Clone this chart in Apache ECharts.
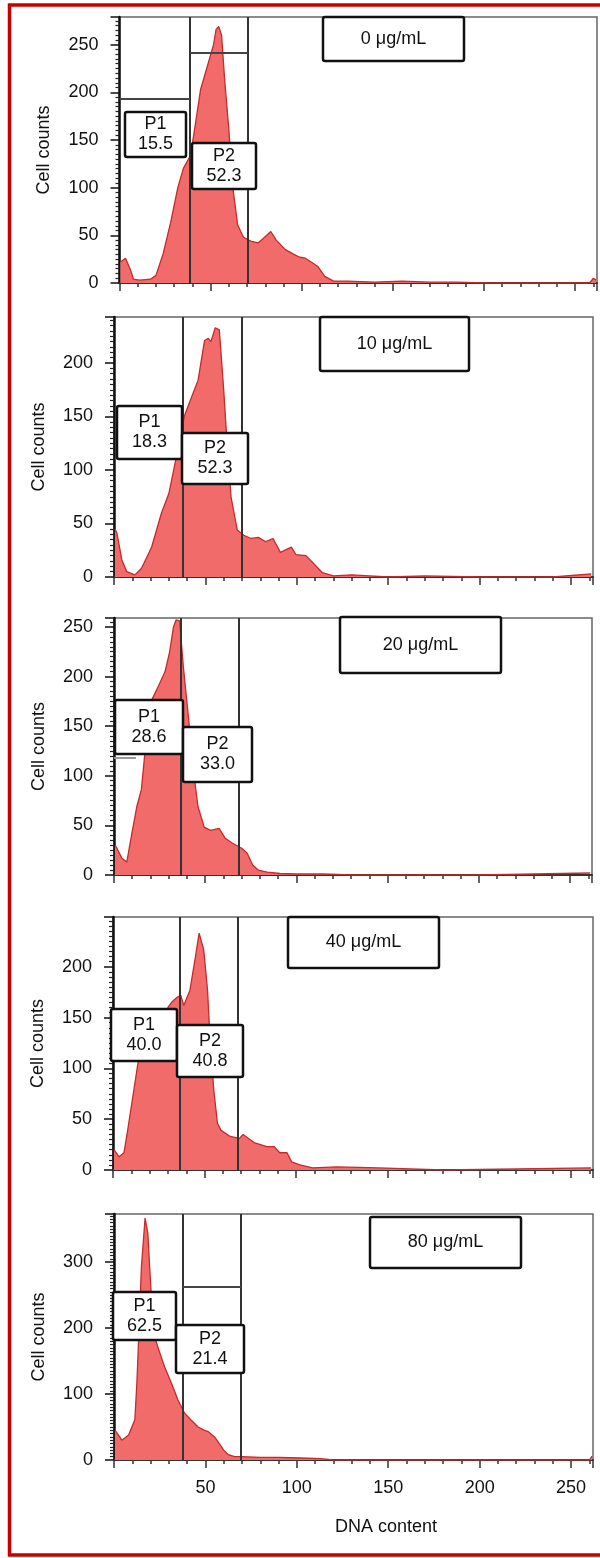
<!DOCTYPE html>
<html>
<head>
<meta charset="utf-8">
<script src="https://cdn.jsdelivr.net/npm/echarts@6/dist/echarts.min.js"></script>
<style>
  html, body { margin: 0; padding: 0; background: #fff; }
  #container { width: 600px; height: 1558px; }
</style>
</head>
<body>
<div id="container"></div>
<script>
// panel titles (concentration) and gate percentages
var doses = ['0 μg/mL', '10 μg/mL', '20 μg/mL', '40 μg/mL', '80 μg/mL'];
var p1Values = ['15.5', '18.3', '28.6', '40.0', '62.5'];
var p2Values = ['52.3', '52.3', '33.0', '40.8', '21.4'];

// gate boundaries on DNA content axis (P1 end, P2 end)
var gateEdges = [[38.7, 70.5], [37.7, 70], [36.6, 68.3], [36.6, 68.3], [37.7, 69.4]];

// tick labels
var xTickLabels = [50, 100, 150, 200, 250];
var yTickLabels = [
  [0, 50, 100, 150, 200, 250],
  [0, 50, 100, 150, 200],
  [0, 50, 100, 150, 200, 250],
  [0, 50, 100, 150, 200],
  [0, 100, 200, 300]
];
var yMax = [279, 243, 259, 249, 373];

// histograms: DNA content (x) and cell counts (y)
var dna0 = [0.5, 3.3, 6, 7.7, 11, 17, 20, 24, 28, 32, 35, 39, 42, 44.5, 48, 51.6, 53, 54.4, 56, 57.7, 60, 62, 64.8, 68, 72, 76, 79, 83, 86, 91, 96.7, 99, 102, 106, 109, 112.6, 117.5, 125, 140, 155, 170, 185, 200, 230, 258, 260, 261.5];
var cnt0 = [22, 26, 14, 4, 3, 4, 8, 31, 63, 100, 120, 134, 171, 203, 226, 250, 266, 269, 260, 213, 161, 103, 61, 48, 44, 42, 47, 54, 45, 35, 29, 27, 26, 21, 17, 7, 2, 2, 1, 2, 1, 1, 0, 0, 0, 5, 3];

var dna10 = [0.5, 1.6, 4.3, 7, 11.4, 15, 20.6, 26, 30, 33, 37, 38.6, 42.4, 46, 49.5, 51.6, 53, 55.4, 57.6, 60, 62, 64, 67.4, 71, 75, 79, 83, 87, 91, 97, 99.5, 105, 109, 114, 120, 130, 140, 150, 170, 200, 240, 261];
var cnt10 = [45, 41, 16, 5, 2, 8, 28, 60, 78, 103, 137, 151, 168, 184, 221, 223, 220, 233, 231, 175, 121, 75, 44, 39, 36, 37, 33, 36, 23, 28, 21, 20, 13, 4, 1, 2, 1, 0, 1, 0, 0, 3];

var dna20 = [0.5, 1.6, 4.3, 7, 9.8, 12.5, 15, 18, 20.6, 24.5, 28, 30.4, 32.6, 34, 36, 38, 40.8, 44, 46, 49.5, 53, 57.6, 61, 65, 70, 73, 76, 79, 84, 91, 100, 115, 130, 160, 200, 261];
var cnt20 = [30, 27, 17, 13, 42, 69, 86, 143, 176, 191, 205, 224, 250, 257, 256, 210, 159, 99, 69, 48, 45, 47, 37, 32, 27, 22, 10, 5, 3, 1.5, 1, 1, 0, 0, 0, 2];

var dna40 = [0.5, 3.3, 6, 8, 11.4, 13.6, 16, 18, 20, 22, 25, 28, 30, 32, 35, 37, 38.6, 42, 45, 47, 49.5, 51.6, 53, 55, 57, 59, 64, 69, 71, 77, 84, 88, 91, 95, 96, 97.5, 102, 109, 122, 145, 180, 261];
var cnt40 = [20, 13, 17, 39, 79, 105, 118, 126, 132, 137, 143, 152, 160, 165, 170, 172, 162, 177, 210, 233, 217, 177, 128, 79, 46, 39, 33, 31, 35, 27, 23, 23, 17, 17, 18, 8, 5, 2, 3, 2, 0, 2];

var dna80 = [0.5, 1.6, 4.3, 8, 11.4, 12.5, 13.6, 15, 17, 18.5, 20, 21.7, 24.5, 27.7, 31.5, 35, 38.6, 42, 46, 49.5, 51.6, 55, 57.6, 60, 62.5, 66, 70, 80, 90, 102, 113, 120, 150, 200, 260, 261.5];
var cnt80 = [45, 41, 30, 38, 61, 116, 192, 293, 367, 344, 268, 192, 167, 141, 116, 91, 71, 61, 50, 45, 43, 35, 25, 15, 8, 5, 5, 4, 4, 3, 2, 0, 0, 0, 0, 6];

var dnaList = [dna0, dna10, dna20, dna40, dna80];
var cntList = [cnt0, cnt10, cnt20, cnt40, cnt80];

// layout of the five panels (pixels)
var panels = [
  { left: 119.5, width: 477.5, top: 17, bottom: 283 },
  { left: 114, width: 479, top: 317, bottom: 577 },
  { left: 114, width: 478, top: 618, bottom: 875 },
  { left: 113, width: 480, top: 917, bottom: 1170 },
  { left: 114, width: 479, top: 1214, bottom: 1460 }
];
var boxes = [
  { p1: [125, 112, 61, 45], p2: [192, 143, 64, 46], dose: [323, 17, 141, 44] },
  { p1: [117, 406, 65, 53], p2: [182, 433, 66, 51], dose: [320, 317, 149, 54] },
  { p1: [115, 700, 68, 54], p2: [183, 727, 69, 55], dose: [340, 617, 161, 56] },
  { p1: [111, 1009, 66, 52], p2: [177, 1025, 66, 52], dose: [288, 917, 151, 51] },
  { p1: [113, 1292, 63, 48], p2: [176, 1325, 68, 48], dose: [370, 1217, 151, 51] }
];
// horizontal gate marker bars: [panel, y, fromX, toX, colour]
var gateBars = [[0, 193, 0, 38.7, '#444'], [0, 241, 38.7, 70.5, '#444'], [2, 118, 0, 12, '#999'], [4, 262, 37.7, 69.4, '#444']];

var FONT = 'Liberation Sans, Arial, sans-serif';
var dom = document.getElementById('container');
var myChart = echarts.init(dom, null, { renderer: 'canvas' });

var grid = [], xAxis = [], yAxis = [], series = [], graphic = [];

panels.forEach(function (p, i) {
  grid.push({
    left: p.left, top: p.top, width: p.width, height: p.bottom - p.top,
    show: true, borderColor: '#666', borderWidth: 1.5, backgroundColor: 'transparent'
  });
  var last = i === panels.length - 1;
  xAxis.push({
    gridIndex: i, type: 'value', min: 0, max: 262, interval: 50,
    axisLine: { lineStyle: { color: '#333', width: 2 } },
    axisTick: { length: 8, lineStyle: { color: '#333', width: 1.5 } },
    minorTick: { show: true, splitNumber: 5, length: 4, lineStyle: { color: '#333', width: 1.5 } },
    splitLine: { show: false },
    axisLabel: {
      show: last, margin: 19, fontSize: 18, color: '#111', fontFamily: FONT,
      formatter: function (v) { return xTickLabels.indexOf(v) >= 0 ? String(v) : ''; }
    }
  });
  var step = i === 4 ? 100 : 50;
  yAxis.push({
    gridIndex: i, type: 'value', min: 0, max: yMax[i], interval: step,
    name: 'Cell counts', nameLocation: 'middle', nameGap: 66,
    nameTextStyle: { fontSize: 18, color: '#111', fontFamily: FONT },
    axisLine: { show: true, lineStyle: { color: '#111', width: 2.5 } },
    axisTick: { show: true, length: 9, lineStyle: { color: '#111', width: 1.5 } },
    minorTick: { show: true, splitNumber: step / 5, length: 4, lineStyle: { color: '#222', width: 1.2 } },
    splitLine: { show: false },
    axisLabel: {
      margin: 21, fontSize: 18, color: '#111', fontFamily: FONT,
      formatter: function (v) { return yTickLabels[i].indexOf(v) >= 0 ? String(v) : ''; }
    }
  });

  var lines = [{ xAxis: gateEdges[i][0] }, { xAxis: gateEdges[i][1] }];
  gateBars.forEach(function (b) {
    if (b[0] === i) lines.push([{ coord: [b[2], b[1]], lineStyle: { color: b[4] } }, { coord: [b[3], b[1]] }]);
  });

  series.push({
    type: 'line', xAxisIndex: i, yAxisIndex: i,
    data: dnaList[i].map(function (x, k) { return [x, cntList[i][k]]; }),
    symbol: 'none', smooth: false,
    lineStyle: { color: '#c62a2a', width: 1.3 },
    areaStyle: { color: '#f26b6b', opacity: 1 },
    markLine: {
      silent: true, symbol: 'none', label: { show: false },
      lineStyle: { color: '#333', width: 2, type: 'solid' },
      data: lines
    }
  });

  function box(r, txt) {
    graphic.push({
      type: 'rect', z: 100,
      shape: { x: r[0], y: r[1], width: r[2], height: r[3], r: 2 },
      style: { fill: '#fff', stroke: '#111', lineWidth: 2.5 }
    });
    graphic.push({
      type: 'text', z: 101,
      style: {
        text: txt, x: r[0] + r[2] / 2, y: r[1] + r[3] / 2,
        align: 'center', verticalAlign: 'middle', textAlign: 'center', textVerticalAlign: 'middle',
        font: '18px ' + FONT, lineHeight: 20, fill: '#111'
      }
    });
  }
  box(boxes[i].p1, 'P1\n' + p1Values[i]);
  box(boxes[i].p2, 'P2\n' + p2Values[i]);
  box(boxes[i].dose, doses[i]);
});

graphic.push({
  type: 'text', z: 101,
  style: {
    text: 'DNA content', x: 386, y: 1527,
    align: 'center', verticalAlign: 'middle', textAlign: 'center', textVerticalAlign: 'middle',
    font: '18px ' + FONT, fill: '#111'
  }
});
// outer red frame
graphic.push({
  type: 'rect', z: 102, silent: true,
  shape: { x: 9.5, y: 5, width: 640, height: 1550 },
  style: { fill: 'none', stroke: '#c80000', lineWidth: 3.5 }
});

var option = {
  animation: false,
  backgroundColor: '#fff',
  grid: grid, xAxis: xAxis, yAxis: yAxis, series: series,
  graphic: graphic
};

if (option && typeof option === 'object') {
  myChart.setOption(option);
}
window.addEventListener('resize', myChart.resize);
</script>
</body>
</html>
